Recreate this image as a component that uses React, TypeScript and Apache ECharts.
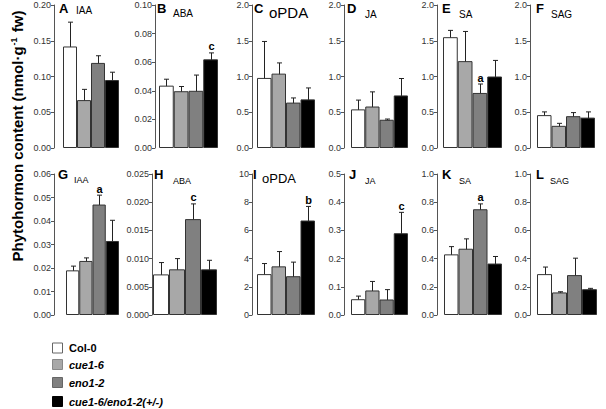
import React, { useEffect, useRef } from 'react';
import * as echarts from 'echarts';

// ---------- data ----------
const genotypes = ['Col-0', 'cue1-6', 'eno1-2', 'cue1-6/eno1-2(+/-)'];
const panelLetters = ['A', 'B', 'C', 'D', 'E', 'F', 'G', 'H', 'I', 'J', 'K', 'L'];
const hormones = ['IAA', 'ABA', 'oPDA', 'JA', 'SA', 'SAG', 'IAA', 'ABA', 'oPDA', 'JA', 'SA', 'SAG'];

const valuesA = [0.142, 0.067, 0.119, 0.095];
const errorsA = [0.034, 0.015, 0.010, 0.011];
const sigA = ['', '', '', ''];
const valuesB = [0.0436, 0.0397, 0.040, 0.062];
const errorsB = [0.0045, 0.0033, 0.011, 0.0045];
const sigB = ['', '', '', 'c'];
const valuesC = [0.98, 1.04, 0.635, 0.68];
const errorsC = [0.51, 0.15, 0.065, 0.16];
const sigC = ['', '', '', ''];
const valuesD = [0.54, 0.58, 0.395, 0.735];
const errorsD = [0.13, 0.205, 0.01, 0.237];
const sigD = ['', '', '', ''];
const valuesE = [1.55, 1.215, 0.77, 1.0];
const errorsE = [0.095, 0.415, 0.125, 0.225];
const sigE = ['', '', 'a', ''];
const valuesF = [0.46, 0.31, 0.445, 0.425];
const errorsF = [0.045, 0.035, 0.05, 0.08];
const sigF = ['', '', '', ''];
const valuesG = [0.019, 0.023, 0.047, 0.0315];
const errorsG = [0.0018, 0.0013, 0.004, 0.0088];
const sigG = ['', '', 'a', ''];
const valuesH = [0.0072, 0.0081, 0.017, 0.0081];
const errorsH = [0.0021, 0.0019, 0.0027, 0.0016];
const sigH = ['', '', 'c', ''];
const valuesI = [2.9, 3.45, 2.75, 6.7];
const errorsI = [0.75, 1.05, 1.0, 1.0];
const sigI = ['', '', '', 'b'];
const valuesJ = [0.056, 0.087, 0.055, 0.29];
const errorsJ = [0.011, 0.032, 0.035, 0.074];
const sigJ = ['', '', '', 'c'];
const valuesK = [0.43, 0.47, 0.75, 0.365];
const errorsK = [0.055, 0.07, 0.038, 0.05];
const sigK = ['', '', 'a', ''];
const valuesL = [0.29, 0.16, 0.283, 0.183];
const errorsL = [0.05, 0.005, 0.12, 0.006];
const sigL = ['', '', '', ''];

const axisMax = [0.2, 0.1, 2, 2, 2, 2, 0.06, 0.025, 10, 0.5, 1, 1];
const axisStep = [0.05, 0.02, 0.5, 0.5, 0.5, 0.5, 0.01, 0.005, 2, 0.1, 0.2, 0.2];
const axisDecimals = [2, 2, 1, 1, 1, 1, 2, 3, 0, 1, 1, 1];

const allValues = [valuesA, valuesB, valuesC, valuesD, valuesE, valuesF, valuesG, valuesH, valuesI, valuesJ, valuesK, valuesL];
const allErrors = [errorsA, errorsB, errorsC, errorsD, errorsE, errorsF, errorsG, errorsH, errorsI, errorsJ, errorsK, errorsL];
const allSig = [sigA, sigB, sigC, sigD, sigE, sigF, sigG, sigH, sigI, sigJ, sigK, sigL];

// ---------- layout & style ----------
const FONT = 'Liberation Sans, Arial, sans-serif';
const barColors = ['#ffffff', '#a8a8a8', '#808080', '#000000'];
const rows = [
  { top: 5, height: 143 },
  { top: 174, height: 141 },
];
// axis: x of y-axis line; x0..x1: bars extent; lx: letter x; nx: name x; ny: name top; nfs: name font size
const layout = [
  { axis: 54, x0: 63, x1: 119, lx: 59, nx: 76, ny: 5, nfs: 10 },
  { axis: 155, x0: 159, x1: 218, lx: 157, nx: 173, ny: 8, nfs: 10 },
  { axis: 252, x0: 257, x1: 315, lx: 254, nx: 269, ny: 5, nfs: 15 },
  { axis: 344, x0: 351, x1: 408, lx: 347, nx: 365, ny: 9, nfs: 10 },
  { axis: 437, x0: 443, x1: 502, lx: 442, nx: 459, ny: 9, nfs: 10 },
  { axis: 530, x0: 537, x1: 595, lx: 536, nx: 551, ny: 9, nfs: 10 },
  { axis: 54, x0: 66, x1: 119, lx: 58, nx: 74, ny: 175, nfs: 9 },
  { axis: 152, x0: 153, x1: 217, lx: 154, nx: 173, ny: 176, nfs: 9 },
  { axis: 252, x0: 257, x1: 315, lx: 253, nx: 262, ny: 172, nfs: 13 },
  { axis: 344, x0: 351, x1: 408, lx: 349, nx: 365, ny: 176, nfs: 9 },
  { axis: 437, x0: 444, x1: 502, lx: 442, nx: 459, ny: 176, nfs: 9 },
  { axis: 530, x0: 537, x1: 597, lx: 536, nx: 550, ny: 176, nfs: 9 },
];

function buildOption() {
  const grid: any[] = [];
  const xAxis: any[] = [];
  const yAxis: any[] = [];
  const series: any[] = [];
  const graphic: any[] = [];

  layout.forEach((p, k) => {
    const row = rows[k < 6 ? 0 : 1];
    grid.push({ left: p.x0, top: row.top, width: p.x1 - p.x0, height: row.height, containLabel: false });
    xAxis.push({
      gridIndex: k,
      type: 'category',
      data: genotypes,
      show: false,
      boundaryGap: true,
    });
    const dec = axisDecimals[k];
    yAxis.push({
      gridIndex: k,
      type: 'value',
      min: 0,
      max: axisMax[k],
      interval: axisStep[k],
      offset: p.x0 - p.axis,
      position: 'left',
      axisLine: { show: true, lineStyle: { color: '#555', width: 1 } },
      axisTick: { show: true, length: 3, inside: false, lineStyle: { color: '#555' } },
      axisLabel: {
        fontSize: 9,
        fontFamily: FONT,
        color: '#333',
        margin: 3,
        formatter: (v: number) => v.toFixed(dec),
      },
      splitLine: { show: false },
    });
    const vals = allValues[k];
    const errs = allErrors[k];
    const sig = allSig[k];
    series.push({
      type: 'bar',
      xAxisIndex: k,
      yAxisIndex: k,
      barWidth: '100%',
      barCategoryGap: '0%',
      data: vals.map((v, i) => ({ value: v, itemStyle: { color: barColors[i] } })),
      itemStyle: { borderColor: '#333', borderWidth: 1 },
      silent: true,
    });
    series.push({
      type: 'custom',
      xAxisIndex: k,
      yAxisIndex: k,
      clip: false,
      silent: true,
      data: vals.map((v, i) => [i, v, errs[i]]),
      encode: { x: 0, y: 1 },
      renderItem: (params: any, api: any) => {
        const i = api.value(0);
        const v = api.value(1);
        const e = api.value(2);
        const hi = api.coord([i, v + e]);
        const lo = api.coord([i, Math.max(0, v - e)]);
        const cx = Math.round(hi[0]) + 0.5;
        const hw = 2.5;
        const stroke = '#222';
        const children: any[] = [
          { type: 'line', shape: { x1: cx, y1: hi[1], x2: cx, y2: lo[1] }, style: { stroke, lineWidth: 1 } },
          { type: 'line', shape: { x1: cx - hw, y1: hi[1], x2: cx + hw, y2: hi[1] }, style: { stroke, lineWidth: 1 } },
          { type: 'line', shape: { x1: cx - hw, y1: lo[1], x2: cx + hw, y2: lo[1] }, style: { stroke, lineWidth: 1 } },
        ];
        const lab = sig[params.dataIndex];
        if (lab) {
          children.push({
            type: 'text',
            style: {
              text: lab,
              x: cx,
              y: hi[1] - 1,
              align: 'center',
              verticalAlign: 'bottom',
              font: 'bold 11px ' + FONT,
              fill: '#000',
            },
          });
        }
        return { type: 'group', children };
      },
    });
    // panel letter and hormone name
    graphic.push({
      type: 'text',
      left: p.lx,
      top: k < 6 ? 2 : 168,
      style: { text: panelLetters[k], font: 'bold 13px ' + FONT, fill: '#000' },
    });
    graphic.push({
      type: 'text',
      left: p.nx,
      top: p.ny,
      style: { text: hormones[k], font: p.nfs + 'px ' + FONT, fill: '#000' },
    });
  });

  // y-axis title
  graphic.push({
    type: 'text',
    x: 17,
    y: 136,
    rotation: Math.PI / 2,
    style: {
      text: 'Phytohormon content (nmol·g{sup|-1} fw)',
      font: 'bold 15px ' + FONT,
      fill: '#000',
      align: 'center',
      verticalAlign: 'middle',
      rich: {
        sup: { fontSize: 9, fontWeight: 'bold', fontFamily: FONT, verticalAlign: 'top', padding: [0, 1, 6, 1] },
      },
    },
  });

  // legend
  const legendY = [348, 364.5, 382.5, 401.5];
  const legendBorder = ['#666', '#888', '#666', '#000'];
  genotypes.forEach((g, i) => {
    graphic.push({
      type: 'rect',
      shape: { x: 52.5, y: legendY[i] - 5, width: 10, height: 10 },
      style: { fill: barColors[i], stroke: legendBorder[i], lineWidth: 1 },
    });
    graphic.push({
      type: 'text',
      x: 69,
      y: legendY[i],
      style: {
        text: g,
        font: (i === 0 ? '' : 'italic ') + 'bold 11px ' + FONT,
        fill: '#000',
        verticalAlign: 'middle',
      },
    });
  });

  return {
    animation: false,
    backgroundColor: '#ffffff',
    grid,
    xAxis,
    yAxis,
    series,
    graphic,
  };
}

export default function App() {
  const ref = useRef<HTMLDivElement>(null);
  useEffect(() => {
    document.body.style.margin = '0';
    const chart = echarts.init(ref.current!, null, { renderer: 'svg' });
    chart.setOption(buildOption() as any);
    return () => chart.dispose();
  }, []);
  return <div ref={ref} style={{ position: 'absolute', left: 0, top: 0, width: 606, height: 409 }} />;
}
